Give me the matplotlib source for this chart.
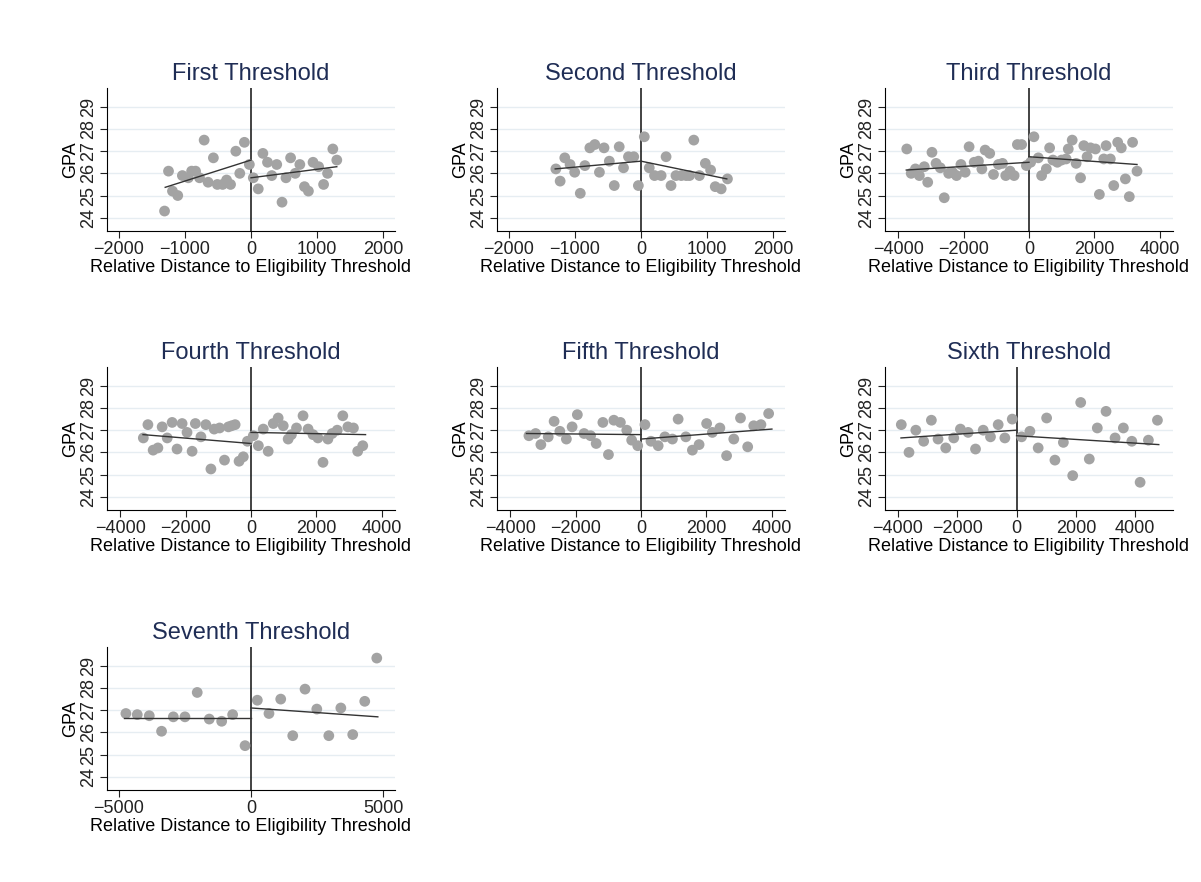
import matplotlib
matplotlib.use("Agg")
import matplotlib.pyplot as plt

plt.rcParams['font.family'] = ['Liberation Sans', 'DejaVu Sans']

titles = ["First Threshold", "Second Threshold", "Third Threshold", "Fourth Threshold",
          "Fifth Threshold", "Sixth Threshold", "Seventh Threshold"]

x1 = [-1310,-1250,-1190,-1110,-1040,-950,-900,-840,-780,-710,-650,-570,-510,-430,-370,-310,-230,-170,-100,-25,
      35,110,180,250,315,390,470,530,600,670,740,810,870,940,1025,1100,1160,1240,1300]
y1 = [24.3,26.1,25.2,25.0,25.9,25.8,26.1,26.1,25.8,27.5,25.6,26.7,25.5,25.5,25.7,25.5,27.0,26.0,27.4,26.4,
      25.8,25.3,26.9,26.5,25.9,26.4,24.7,25.8,26.7,26.0,26.4,25.4,25.2,26.5,26.3,25.5,26.0,27.1,26.6]
x2 = [-1290,-1225,-1155,-1075,-1005,-920,-850,-775,-700,-630,-560,-480,-405,-330,-265,-190,-110,-40,
      50,125,205,305,380,455,530,610,685,735,800,885,975,1055,1125,1215,1310]
y2 = [26.2,25.65,26.7,26.4,26.05,25.1,26.35,27.15,27.3,26.05,27.15,26.55,25.45,27.2,26.25,26.75,26.75,25.45,
      27.65,26.25,25.9,25.9,26.75,25.45,25.9,25.9,25.9,25.9,27.5,25.9,26.45,26.15,25.4,25.3,25.75]
x3 = [-3735,-3600,-3470,-3350,-3200,-3095,-2965,-2840,-2710,-2590,-2455,-2335,-2215,-2080,-1950,-1830,-1675,
      -1545,-1440,-1340,-1200,-1085,-935,-810,-710,-580,-455,-355,-225,-80,
      50,150,285,385,530,630,730,865,995,1135,1200,1320,1440,1575,1675,1775,1880,2030,2150,2285,2355,2485,
      2590,2710,2820,2945,3065,3165,3300]
y3 = [27.1,26.0,26.2,25.9,26.3,25.6,26.95,26.45,26.25,24.9,26.0,26.05,25.9,26.4,26.05,27.2,26.5,
      26.55,26.2,27.05,26.9,25.95,26.4,26.45,25.9,26.1,25.9,27.3,27.3,26.35,
      26.5,27.65,26.7,25.9,26.2,27.15,26.6,26.5,26.6,26.65,27.1,27.5,26.45,25.8,27.25,26.75,27.15,27.1,25.05,
      26.65,27.25,26.65,25.45,27.4,27.15,25.75,24.95,27.4,26.1]
x4 = [-3290,-3150,-2990,-2845,-2715,-2560,-2410,-2260,-2105,-1955,-1800,-1700,-1530,-1380,-1225,-1125,-960,
      -810,-690,-590,-485,-365,-235,-110,
      70,225,375,525,680,830,985,1135,1235,1390,1590,1745,1895,2045,2200,2350,2480,2635,2805,2960,3130,3260,3415]
y4 = [26.65,27.25,26.1,26.2,27.15,26.65,27.35,26.15,27.3,26.9,26.05,27.3,26.7,27.25,25.25,27.05,27.1,
      25.65,27.15,27.2,27.25,25.6,25.8,26.5,
      26.75,26.3,27.05,26.05,27.3,27.55,27.2,26.6,26.8,27.1,27.65,27.05,26.8,26.65,25.55,26.6,26.85,27.0,27.65,
      27.15,27.1,26.05,26.3]
x5 = [-3425,-3220,-3060,-2835,-2655,-2480,-2280,-2105,-1945,-1740,-1540,-1370,-1165,-995,-830,-630,-435,-285,-100,
      120,305,525,730,960,1135,1370,1570,1775,2005,2180,2410,2615,2835,3040,3260,3445,3665,3900]
y5 = [26.75,26.85,26.35,26.7,27.4,26.95,26.6,27.15,27.7,26.85,26.75,26.4,27.35,25.9,27.45,27.35,27.0,26.55,26.3,
      27.25,26.5,26.3,26.7,26.6,27.5,26.7,26.1,26.35,27.3,26.9,27.1,25.85,26.6,27.55,26.25,27.2,27.25,27.75]
x6 = [-3890,-3630,-3400,-3135,-2875,-2650,-2390,-2120,-1895,-1635,-1385,-1125,-880,-620,-395,-145,
      170,450,730,1015,1295,1580,1895,2165,2455,2725,3020,3325,3605,3890,4170,4450,4755]
y6 = [27.25,26.0,27.0,26.5,27.45,26.6,26.2,26.65,27.05,26.9,26.15,27.0,26.7,27.25,26.65,27.5,
      26.7,26.95,26.2,27.55,25.65,26.45,24.95,28.25,25.7,27.1,27.85,26.65,27.1,26.5,24.65,26.55,27.45]
x7 = [-4735,-4305,-3850,-3385,-2940,-2500,-2035,-1580,-1110,-695,-225,
      240,680,1125,1580,2045,2490,2945,3400,3850,4305,4760]
y7 = [26.85,26.8,26.75,26.05,26.7,26.7,27.8,26.6,26.5,26.8,25.4,
      27.45,26.85,27.5,25.85,27.95,27.05,25.85,27.1,25.9,27.4,29.35]

xs = [x1, x2, x3, x4, x5, x6, x7]
ys = [y1, y2, y3, y4, y5, y6, y7]

fits = [(-1300, 25.37, 26.6, 25.8, 1300, 26.3),
        (-1300, 26.2, 26.55, 26.55, 1300, 25.75),
        (-3750, 26.15, 26.5, 26.75, 3300, 26.4),
        (-3300, 26.8, 26.4, 26.9, 3500, 26.8),
        (-3500, 26.85, 26.8, 26.6, 4000, 27.05),
        (-3900, 26.65, 27.0, 26.75, 4800, 26.35),
        (-4800, 26.67, 26.67, 27.1, 4800, 26.7)]

xticks = [[-2000, -1000, 0, 1000, 2000], [-2000, -1000, 0, 1000, 2000],
          [-4000, -2000, 0, 2000, 4000], [-4000, -2000, 0, 2000, 4000],
          [-4000, -2000, 0, 2000, 4000], [-4000, -2000, 0, 2000, 4000],
          [-5000, 0, 5000]]
xlims = [(-2182, 2182), (-2182, 2182), (-4400, 4400), (-4400, 4400),
         (-4400, 4400), (-4440, 5280), (-5450, 5450)]
yticks = [24, 25, 26, 27, 28, 29]

W, H = 1201, 882
lefts = [107, 497, 885]
tops = [88, 367, 647]
aw, ah = 288, 143

fig = plt.figure(figsize=(W / 100, H / 100), dpi=100)
fig.patch.set_facecolor("white")
navy = "#1f2d55"
for i in range(7):
    r, c = divmod(i, 3)
    ax = fig.add_axes([lefts[c] / W, 1 - (tops[r] + ah) / H, aw / W, ah / H])
    ax.scatter(xs[i], ys[i], s=60, color="#a3a3a3", edgecolors="none", zorder=3)
    xl, yl0, yl1, yr0, xr, yr1 = fits[i]
    ax.plot([xl, 0], [yl0, yl1], color="#333333", lw=1, zorder=4)
    ax.plot([0, xr], [yr0, yr1], color="#333333", lw=1, zorder=4)
    ax.axvline(0, color="#222222", lw=1.2, zorder=2)
    ax.set_xlim(*xlims[i])
    ax.set_ylim(23.4, 29.85)
    ax.set_xticks(xticks[i])
    ax.set_yticks(yticks)
    ax.set_yticklabels([str(v) for v in yticks], rotation=90, va="center")
    ax.grid(axis="y", color="#e6edf2", lw=1, zorder=0)
    ax.spines["top"].set_visible(False)
    ax.spines["right"].set_visible(False)
    ax.tick_params(labelsize=13, length=5, pad=2, colors="#222222")
    ax.set_ylabel("GPA", fontsize=13, labelpad=1)
    ax.set_xlabel("Relative Distance to Eligibility Threshold", fontsize=13, labelpad=1)
    ax.set_title(titles[i], fontsize=17, color=navy, pad=6)

fig.savefig("out.png", dpi=100)
